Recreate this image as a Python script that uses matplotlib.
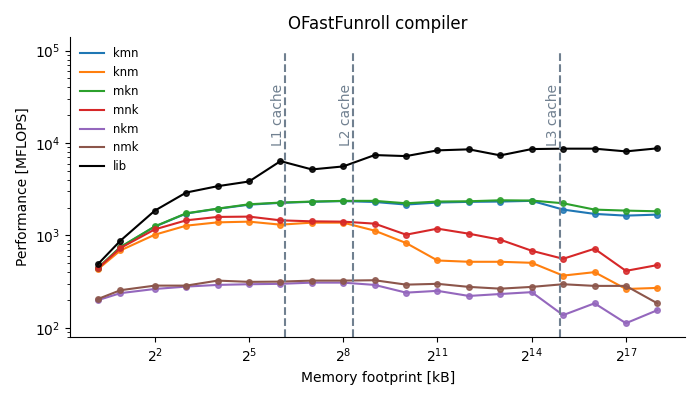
import matplotlib
matplotlib.use("Agg")
import matplotlib.pyplot as plt

# memory footprint in kB
footprint = [1.14, 1.87] + [2 ** k for k in range(2, 19)]

kmn = [440, 745, 1245, 1725, 1940, 2150, 2250, 2310, 2350, 2300,
       2157, 2267, 2307, 2325, 2366, 1903, 1709, 1637, 1679]
knm = [431, 687, 1018, 1275, 1384, 1409, 1307, 1374, 1374, 1125,
       827, 535, 518, 518, 505, 367, 400, 263, 270]
mkn = [446, 748, 1253, 1735, 1950, 2173, 2267, 2325, 2366, 2366,
       2228, 2325, 2342, 2400, 2384, 2228, 1903, 1855, 1824]
mnk = [440, 730, 1162, 1456, 1585, 1597, 1456, 1420, 1409, 1340,
       1018, 1183, 1043, 898, 682, 558, 717, 413, 477]
nkm = [199, 237, 263, 279, 291, 296, 299, 308, 308, 291,
       240, 251, 221, 232, 243, 137, 184, 112, 155]
nmk = [205, 255, 286, 286, 324, 314, 316, 324, 324, 327,
       293, 299, 277, 265, 277, 296, 284, 284, 184]
lib = [489, 876, 1855, 2912, 3410, 3834, 6370, 5178, 5583, 7409,
       7220, 8330, 8545, 7350, 8605, 8690, 8690, 8120, 8760]

caches = ["L1 cache", "L2 cache", "L3 cache"]
cache_sizes = [70.4, 319, 30860]

series = [("kmn", kmn, "tab:blue"), ("knm", knm, "tab:orange"),
          ("mkn", mkn, "tab:green"), ("mnk", mnk, "tab:red"),
          ("nkm", nkm, "tab:purple"), ("nmk", nmk, "tab:brown"),
          ("lib", lib, "black")]

fig, ax = plt.subplots(figsize=(7, 4), dpi=100)
for name, vals, col in series:
    ax.plot(footprint, vals, '-', color=col, label=name)
    ax.plot(footprint, vals, 'o', color=col, markersize=4, alpha=0.85)

ax.set_xscale('log', base=2)
ax.set_yscale('log')
ymin, ymax = 10 ** 1.90, 10 ** 5.148
ax.set_ylim(ymin, ymax)

for name, size in zip(caches, cache_sizes):
    ax.vlines(size, ymin, 1e5, colors='slategray', linestyles='dashed', linewidth=1.5)
    ax.text(size, 9300, name, rotation=90, ha='right', va='bottom',
            color='slategray', fontsize=10)

ax.set_xticks([2 ** k for k in range(2, 18, 3)])
ax.spines['top'].set_visible(False)
ax.spines['right'].set_visible(False)
ax.set_title("OFastFunroll compiler", fontsize=12)
ax.set_xlabel("Memory footprint [kB]")
ax.set_ylabel("Performance [MFLOPS]")
ax.legend(loc='upper left', frameon=False, fontsize='small')
plt.subplots_adjust(left=0.1, right=0.979, bottom=0.1575, top=0.9075)
plt.savefig("out.png")
